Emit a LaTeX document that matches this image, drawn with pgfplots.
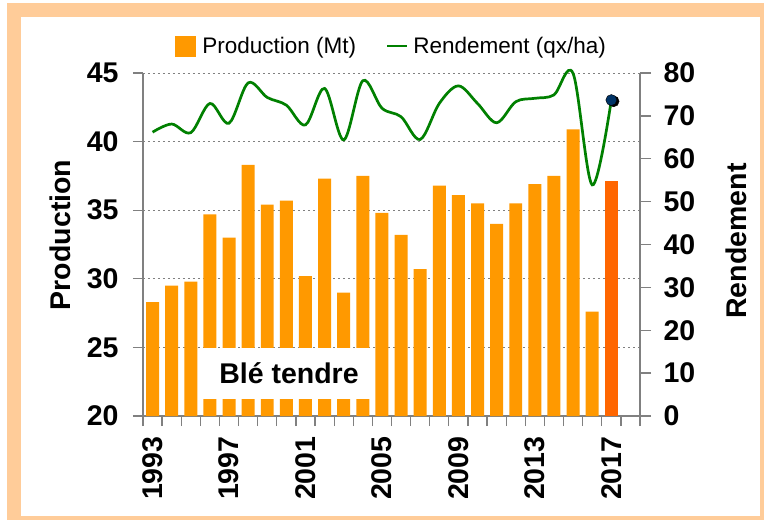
\documentclass[border=0pt]{standalone}
\usepackage{fontspec}
\setmainfont{Liberation Sans}
\usepackage{pgfplots}
\pgfplotsset{compat=1.18}
\definecolor{barorange}{HTML}{FF9900}
\definecolor{barred}{HTML}{FF6600}
\definecolor{linegreen}{HTML}{008000}
\definecolor{navy}{HTML}{003366}
\definecolor{framecol}{HTML}{FFCC99}
\definecolor{axgray}{HTML}{808080}
\newcommand{\bigfont}{\fontsize{28.5}{30}\selectfont\bfseries}
\begin{document}
\begin{tikzpicture}
\useasboundingbox (0pt,0pt) rectangle (764pt,-520pt);
\fill[framecol] (7pt,-3pt) rectangle (764pt,-520pt);
\fill[white] (20.7pt,-16.7pt) rectangle (760pt,-516pt);
\begin{axis}[
  scale only axis, width=497pt, height=343pt,
  anchor=south west, at={(143pt,-416pt)},
  xmin=0, xmax=26, ymin=20, ymax=45,
  axis x line*=bottom, axis y line*=left,
  axis line style={axgray, line width=1.5pt, -},
  xtick={0,1,...,26}, xticklabels={},
  ytick={20,25,...,45},
  tick align=outside, major tick length=10pt,
  every tick/.style={axgray, line width=1.3pt},
  ymajorgrids, major grid style={axgray, line width=1pt, dash pattern=on 2pt off 3pt},
  /pgf/number format/assume math mode=true,
  yticklabel style={font=\bigfont, xshift=-11pt},
  extra x ticks={0.5,4.5,...,24.5},
  extra x tick labels={1993,1997,2001,2005,2009,2013,2017},
  extra x tick style={major tick length=0pt, grid=none,
     xticklabel style={font=\bigfont, yshift=-17pt, rotate=90, anchor=east}},
  ylabel={Production},
  ylabel style={font=\bigfont, at={(axis description cs:-0.167,0.528)}, anchor=center},
  ybar, bar width=0.68, bar shift=0pt,
  legend columns=2,
  legend style={draw=none, fill=none, at={(0.5,1.079)}, anchor=center,
    font=\fontsize{22.5}{24}\selectfont,
    /tikz/every even column/.append style={column sep=28pt}},
]
\addplot[fill=barorange, draw=none, forget plot] coordinates {
(0.5,28.3) (1.5,29.5) (2.5,29.8) (3.5,34.7) (4.5,33.0) (5.5,38.3) (6.5,35.4)
(7.5,35.7) (8.5,30.2) (9.5,37.3) (10.5,29.0) (11.5,37.5) (12.5,34.8) (13.5,33.2)
(14.5,30.7) (15.5,36.8) (16.5,36.1) (17.5,35.5) (18.5,34.0) (19.5,35.5) (20.5,36.9)
(21.5,37.5) (22.5,40.9) (23.5,27.6)};
\addplot[fill=barred, draw=none, forget plot] coordinates {(24.5,37.1)};
\addlegendimage{legend image code/.code={\fill[barorange] (0pt,-10pt) rectangle (20pt,10pt); \path[draw=none, fill=none] (0pt,0pt) rectangle (25pt,0.1pt);}}
\addlegendentry{Production (Mt)}
\addlegendimage{legend image code/.code={\draw[linegreen, line width=2.5pt] (0pt,0pt) -- (20pt,0pt); \path[draw=none, fill=none] (0pt,0pt) rectangle (24pt,0.1pt);}}
\addlegendentry{Rendement (qx/ha)}
\end{axis}
\begin{axis}[
  scale only axis, width=497pt, height=343pt,
  anchor=south west, at={(143pt,-416pt)},
  xmin=0, xmax=26, ymin=0, ymax=80,
  axis x line=none, axis y line*=right,
  axis line style={axgray, line width=1.5pt, -},
  ytick={0,10,...,80},
  tick align=outside, major tick length=11pt,
  every tick/.style={axgray, line width=1.3pt},
  /pgf/number format/assume math mode=true,
  yticklabel style={font=\bigfont, xshift=9pt},
  ylabel={Rendement},
  ylabel style={font=\bigfont, at={(axis description cs:1.193,0.51)}, anchor=center},
  clip=false,
]
\addplot[linegreen, line width=2.7pt, smooth, tension=0.55, no marks] coordinates {
(0.5,66.2) (1.5,68.1) (2.5,66.1) (3.5,72.9) (4.5,68.3) (5.5,77.7) (6.5,74.3)
(7.5,72.5) (8.5,67.9) (9.5,76.4) (10.5,64.4) (11.5,78.2) (12.5,71.8) (13.5,69.8)
(14.5,64.5) (15.5,72.9) (16.5,77.0) (17.5,72.9) (18.5,68.4) (19.5,73.3) (20.5,74.1)
(21.5,74.9) (22.5,79.9) (23.5,53.9) (24.5,73.7)};
\addplot[only marks, mark=*, mark size=5.5pt, mark options={fill=black, draw=none}] coordinates {(24.62,73.4)};
\addplot[only marks, mark=*, mark size=5.5pt, mark options={fill=navy, draw=none}] coordinates {(24.5,73.7)};
\end{axis}
\node[fill=white, minimum width=172pt, minimum height=51pt, inner sep=0pt, font=\bigfont] at (289pt,-373.5pt) {Blé tendre};
\end{tikzpicture}
\end{document}
